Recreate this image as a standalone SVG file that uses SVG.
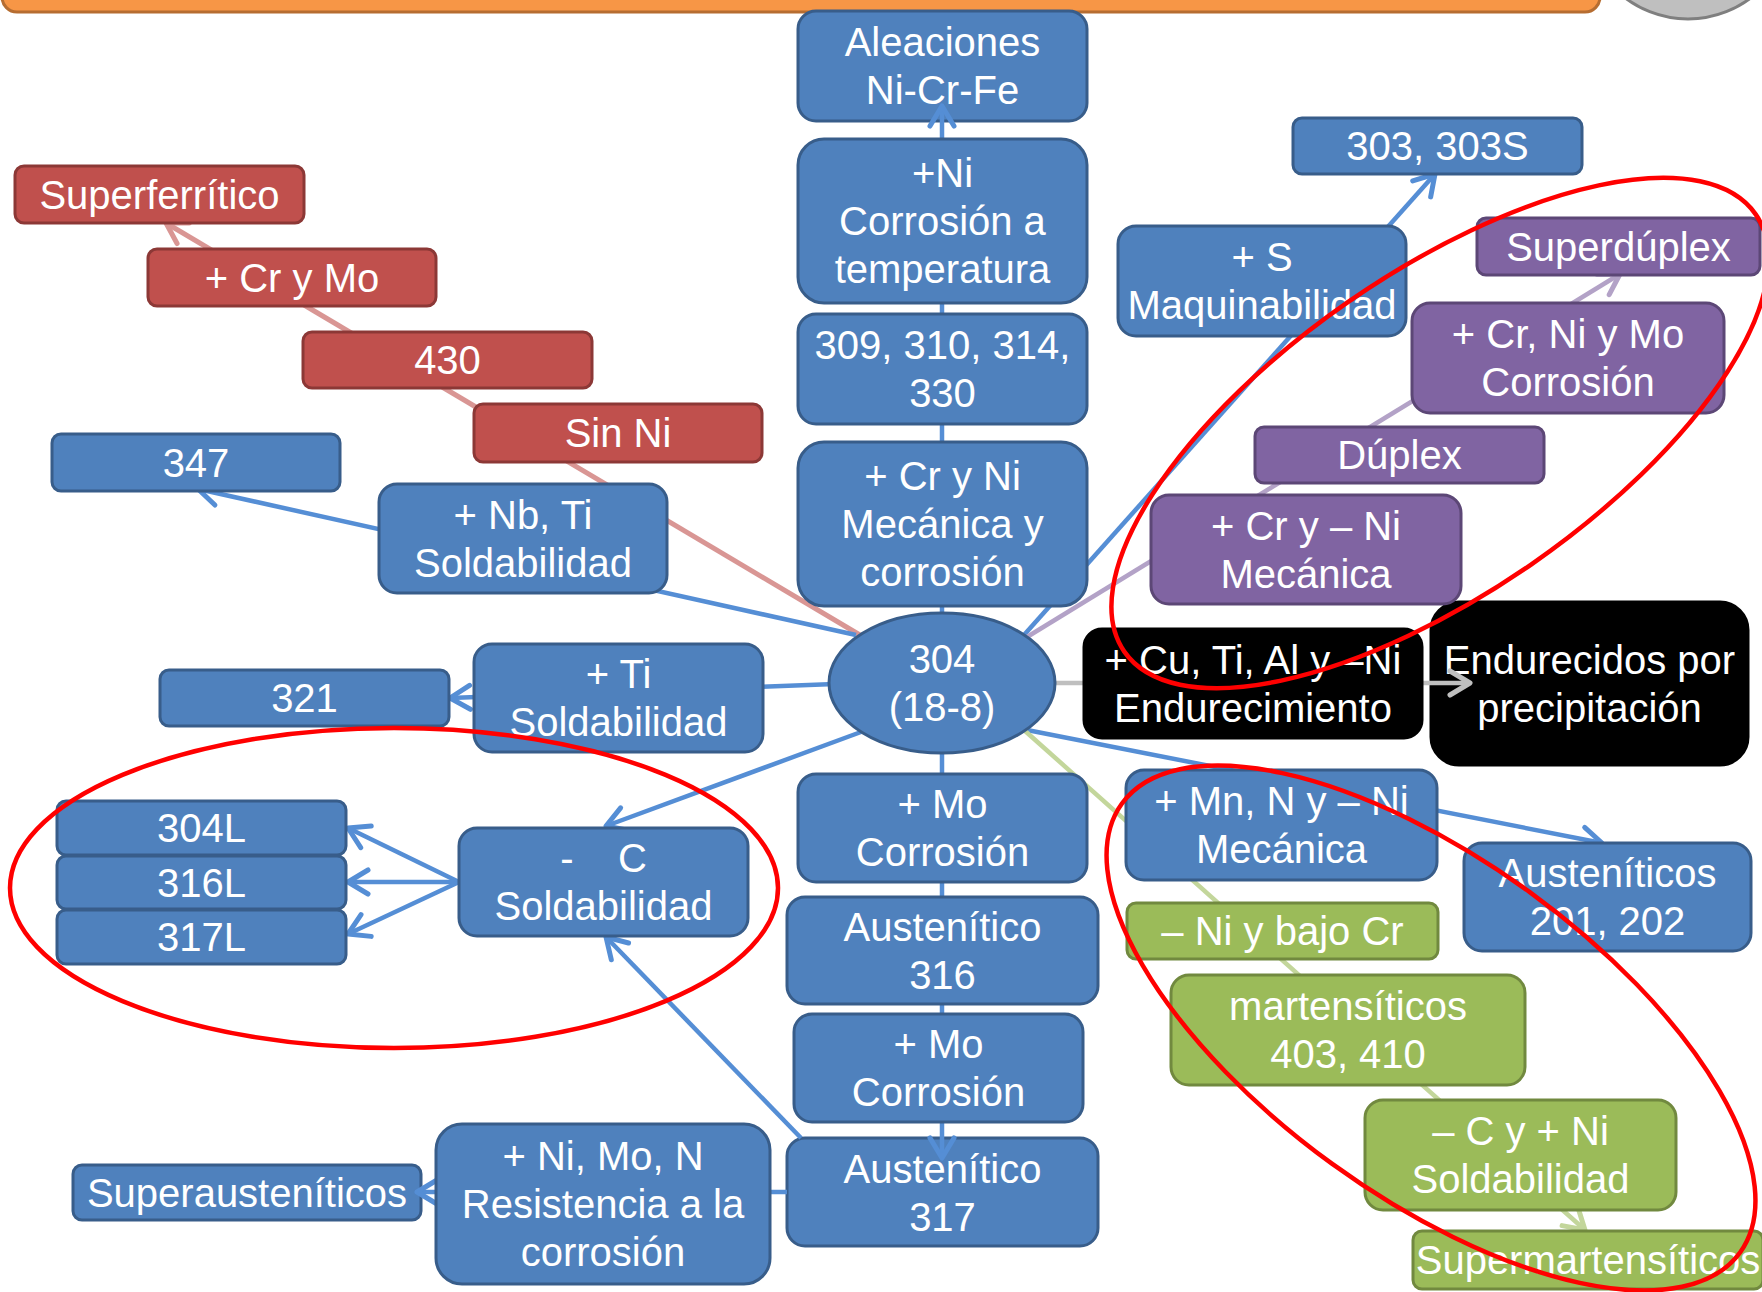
<svg xmlns="http://www.w3.org/2000/svg" width="1762" height="1292" viewBox="0 0 1762 1292">
<defs>
<style>
.b{fill:#4f81bd;stroke:#385d8a;stroke-width:3}
.r{fill:#c0504d;stroke:#8c3836;stroke-width:3}
.p{fill:#8064a2;stroke:#5c4776;stroke-width:3}
.g{fill:#9bbb59;stroke:#71893f;stroke-width:3}
.k{fill:#000;stroke:#000;stroke-width:3}
text{font-family:"Liberation Sans",Arial,sans-serif;font-size:40px;fill:#fff;text-anchor:middle;dominant-baseline:central}
.c{fill:none;stroke-width:4.5}
.cb{stroke:#558ed5}
.cr{stroke:#d99694;stroke-width:5}
.cp{stroke:#b3a2c7}
.cg{stroke:#c3d69b}
.ck{stroke:#bfbfbf}
.ann{fill:none;stroke:#ff0000;stroke-width:4.5}
</style>
<marker id="mb" markerUnits="userSpaceOnUse" markerWidth="32" markerHeight="32" viewBox="0 0 32 32" refX="25" refY="16" orient="auto"><path d="M5 4 L25 16 L5 28" fill="none" stroke="#558ed5" stroke-width="5" stroke-linecap="round" stroke-linejoin="round"/></marker>
<marker id="mr" markerUnits="userSpaceOnUse" markerWidth="32" markerHeight="32" viewBox="0 0 32 32" refX="25" refY="16" orient="auto"><path d="M5 4 L25 16 L5 28" fill="none" stroke="#d99694" stroke-width="5" stroke-linecap="round" stroke-linejoin="round"/></marker>
<marker id="mp" markerUnits="userSpaceOnUse" markerWidth="32" markerHeight="32" viewBox="0 0 32 32" refX="25" refY="16" orient="auto"><path d="M5 4 L25 16 L5 28" fill="none" stroke="#b3a2c7" stroke-width="5" stroke-linecap="round" stroke-linejoin="round"/></marker>
<marker id="mg" markerUnits="userSpaceOnUse" markerWidth="32" markerHeight="32" viewBox="0 0 32 32" refX="25" refY="16" orient="auto"><path d="M5 4 L25 16 L5 28" fill="none" stroke="#c3d69b" stroke-width="5" stroke-linecap="round" stroke-linejoin="round"/></marker>
<marker id="mk" markerUnits="userSpaceOnUse" markerWidth="32" markerHeight="32" viewBox="0 0 32 32" refX="25" refY="16" orient="auto"><path d="M5 4 L25 16 L5 28" fill="none" stroke="#bfbfbf" stroke-width="5" stroke-linecap="round" stroke-linejoin="round"/></marker>
</defs>
<rect width="1762" height="1292" fill="#ffffff"/>
<rect x="2" y="-40" width="1598" height="52" rx="15" fill="#f79646" stroke="#b66d31" stroke-width="3"/>
<circle cx="1688" cy="-85" r="104" fill="#bfbfbf" stroke="#7f7f7f" stroke-width="3"/>

<g id="n-aleaciones"><rect class="b" x="798" y="11" width="289" height="110" rx="18"/><text x="942.5" y="42">Aleaciones</text><text x="942.5" y="90">Ni-Cr-Fe</text></g>
<g id="n-aust317"><rect class="b" x="787" y="1138" width="311" height="108" rx="18"/><text x="942.5" y="1169">Austenítico</text><text x="942.5" y="1217">317</text></g>
<g id="n-endurecidos"><rect class="k" x="1431" y="602" width="317" height="163" rx="28"/><text x="1589.5" y="659.5">Endurecidos por</text><text x="1589.5" y="707.5">precipitación</text></g>
<g id="n-superaust"><rect class="b" x="73" y="1165" width="348" height="55" rx="9"/><text x="247" y="1192.5">Superausteníticos</text></g>

<g id="connectors">
<line class="c cb" x1="942" y1="620" x2="942" y2="106" marker-end="url(#mb)"/>
<line class="c cb" x1="942" y1="750" x2="942" y2="1158" marker-end="url(#mb)"/>
<line class="c cr" x1="870" y1="641" x2="166" y2="223" marker-end="url(#mr)"/>
<line class="c cb" x1="856" y1="635" x2="198" y2="489" marker-end="url(#mb)"/>
<line class="c cb" x1="835" y1="684" x2="450" y2="698" marker-end="url(#mb)"/>
<line class="c cb" x1="861" y1="732" x2="606" y2="826" marker-end="url(#mb)"/>
<line class="c cb" x1="459" y1="882" x2="348" y2="828" marker-end="url(#mb)"/>
<line class="c cb" x1="459" y1="882" x2="348" y2="882" marker-end="url(#mb)"/>
<line class="c cb" x1="459" y1="882" x2="348" y2="934" marker-end="url(#mb)"/>
<line class="c cb" x1="801" y1="1138" x2="606" y2="937" marker-end="url(#mb)"/>
<line class="c cb" x1="787" y1="1192" x2="417" y2="1192" marker-end="url(#mb)"/>
<line class="c cb" x1="1024" y1="635" x2="1435" y2="174" marker-end="url(#mb)"/>
<line class="c cp" x1="1027" y1="637" x2="1620" y2="274" marker-end="url(#mp)"/>
<line class="c ck" x1="1050" y1="683" x2="1470" y2="683" marker-end="url(#mk)"/>
<line class="c cb" x1="1027" y1="730" x2="1602" y2="843" marker-end="url(#mb)"/>
<line class="c cg" x1="1024" y1="730" x2="1585" y2="1230" marker-end="url(#mg)"/>
</g>

<g id="n-ni"><rect class="b" x="798" y="139" width="289" height="164" rx="26"/><text x="942.5" y="173">+Ni</text><text x="942.5" y="221">Corrosión a</text><text x="942.5" y="269">temperatura</text></g>
<g id="n-309"><rect class="b" x="798" y="314" width="289" height="110" rx="18"/><text x="942.5" y="345">309, 310, 314,</text><text x="942.5" y="393">330</text></g>
<g id="n-crni"><rect class="b" x="798" y="442" width="289" height="164" rx="26"/><text x="942.5" y="476">+ Cr y Ni</text><text x="942.5" y="524">Mecánica y</text><text x="942.5" y="572">corrosión</text></g>
<g id="n-304"><ellipse class="b" cx="942" cy="683" rx="113" ry="70"/><text x="942" y="659">304</text><text x="942" y="707">(18-8)</text></g>
<g id="n-mo1"><rect class="b" x="798" y="774" width="289" height="108" rx="18"/><text x="942.5" y="804">+ Mo</text><text x="942.5" y="852">Corrosión</text></g>
<g id="n-aust316"><rect class="b" x="787" y="897" width="311" height="107" rx="18"/><text x="942.5" y="927">Austenítico</text><text x="942.5" y="975">316</text></g>
<g id="n-mo2"><rect class="b" x="794" y="1014" width="289" height="108" rx="18"/><text x="938.5" y="1044">+ Mo</text><text x="938.5" y="1092">Corrosión</text></g>
<g id="n-nimon"><rect class="b" x="436" y="1124" width="334" height="160" rx="26"/><text x="603" y="1156">+ Ni, Mo, N</text><text x="603" y="1204">Resistencia a la</text><text x="603" y="1252">corrosión</text></g>
<g id="n-menosc"><rect class="b" x="459" y="828" width="289" height="108" rx="18"/><text x="603.5" y="858" xml:space="preserve">-    C</text><text x="603.5" y="906">Soldabilidad</text></g>
<g id="n-304l"><rect class="b" x="57" y="801" width="289" height="54" rx="9"/><text x="201.5" y="828">304L</text></g>
<g id="n-316l"><rect class="b" x="57" y="856" width="289" height="53" rx="9"/><text x="201.5" y="882.5">316L</text></g>
<g id="n-317l"><rect class="b" x="57" y="910" width="289" height="54" rx="9"/><text x="201.5" y="937">317L</text></g>
<g id="n-321"><rect class="b" x="160" y="670" width="289" height="56" rx="9"/><text x="304.5" y="698">321</text></g>
<g id="n-ti"><rect class="b" x="474" y="644" width="289" height="108" rx="18"/><text x="618.5" y="674">+ Ti</text><text x="618.5" y="722">Soldabilidad</text></g>
<g id="n-nbti"><rect class="b" x="379" y="484" width="288" height="109" rx="18"/><text x="523" y="514.5">+ Nb, Ti</text><text x="523" y="562.5">Soldabilidad</text></g>
<g id="n-347"><rect class="b" x="52" y="434" width="288" height="57" rx="9"/><text x="196" y="462.5">347</text></g>
<g id="n-sinni"><rect class="r" x="474" y="404" width="288" height="58" rx="9"/><text x="618" y="433">Sin Ni</text></g>
<g id="n-430"><rect class="r" x="303" y="332" width="289" height="56" rx="9"/><text x="447.5" y="360">430</text></g>
<g id="n-crmo"><rect class="r" x="148" y="249" width="288" height="57" rx="9"/><text x="292" y="277.5">+ Cr y Mo</text></g>
<g id="n-superferritico"><rect class="r" x="15" y="166" width="289" height="57" rx="9"/><text x="159.5" y="194.5">Superferrítico</text></g>
<g id="n-303"><rect class="b" x="1293" y="118" width="289" height="56" rx="9"/><text x="1437.5" y="146">303, 303S</text></g>
<g id="n-s"><rect class="b" x="1118" y="226" width="288" height="110" rx="18"/><text x="1262" y="257">+ S</text><text x="1262" y="305">Maquinabilidad</text></g>
<g id="n-superduplex"><rect class="p" x="1477" y="218" width="283" height="57" rx="9"/><text x="1618.5" y="246.5">Superdúplex</text></g>
<g id="n-crnimo"><rect class="p" x="1412" y="303" width="312" height="110" rx="18"/><text x="1568" y="334">+ Cr, Ni y Mo</text><text x="1568" y="382">Corrosión</text></g>
<g id="n-duplex"><rect class="p" x="1255" y="427" width="289" height="56" rx="9"/><text x="1399.5" y="455">Dúplex</text></g>
<g id="n-crmenosni"><rect class="p" x="1151" y="495" width="310" height="109" rx="18"/><text x="1306" y="525.5">+ Cr y – Ni</text><text x="1306" y="573.5">Mecánica</text></g>
<g id="n-cutial"><rect class="k" x="1084" y="629" width="338" height="109" rx="18"/><text x="1253" y="659.5">+ Cu, Ti, Al y –Ni</text><text x="1253" y="707.5">Endurecimiento</text></g>
<g id="n-mnn"><rect class="b" x="1126" y="770" width="311" height="110" rx="18"/><text x="1281.5" y="801">+ Mn, N y – Ni</text><text x="1281.5" y="849">Mecánica</text></g>
<g id="n-aust201"><rect class="b" x="1464" y="843" width="287" height="108" rx="18"/><text x="1607.5" y="873">Austeníticos</text><text x="1607.5" y="921">201, 202</text></g>
<g id="n-nibajocr"><rect class="g" x="1127" y="903" width="311" height="56" rx="9"/><text x="1282.5" y="931">– Ni y bajo Cr</text></g>
<g id="n-martensiticos"><rect class="g" x="1171" y="975" width="354" height="110" rx="18"/><text x="1348" y="1006">martensíticos</text><text x="1348" y="1054">403, 410</text></g>
<g id="n-cni"><rect class="g" x="1365" y="1100" width="311" height="110" rx="18"/><text x="1520.5" y="1131">– C y + Ni</text><text x="1520.5" y="1179">Soldabilidad</text></g>
<g id="n-supermart"><rect class="g" x="1413" y="1231" width="350" height="58" rx="9"/><text x="1588" y="1260">Supermartensíticos</text></g>

<g id="annotations">
<ellipse class="ann" cx="394" cy="888" rx="384" ry="160"/>
<ellipse class="ann" cx="1440" cy="433" rx="384" ry="160" transform="rotate(-34.7 1440 433)"/>
<ellipse class="ann" cx="1431" cy="1028" rx="382" ry="168" transform="rotate(36 1431 1028)"/>
</g>
</svg>
